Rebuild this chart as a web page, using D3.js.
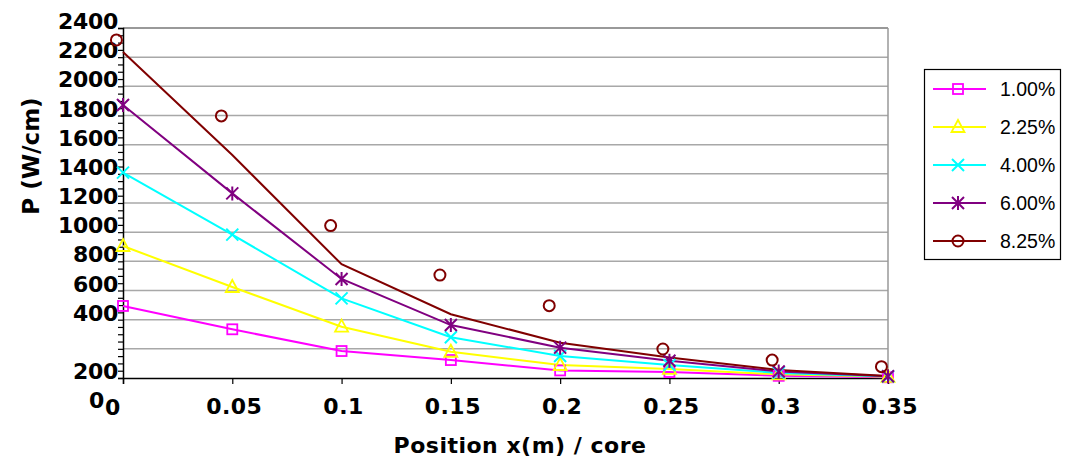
<!DOCTYPE html>
<html>
<head>
<meta charset="utf-8">
<script src="https://cdn.jsdelivr.net/npm/d3@7"></script>
<style>
  body { margin: 0; background: #fff; }
  svg { display: block; }
</style>
</head>
<body>
<div id="panel"></div>
<script>
var w = 1072;
var h = 462;

// positions along the core (m)
var positions = [0, 0.05, 0.1, 0.15, 0.2, 0.25, 0.3, 0.35];
var labels = ['1.00%', '2.25%', '4.00%', '6.00%', '8.25%'];
var p100 = [494, 334, 185, 123, 52, 41, 15, 5];
var p225 = [905, 624, 352, 180, 89, 62, 25, 8];
var p400 = [1408, 983, 546, 279, 151, 89, 35, 10];
var p600 = [1872, 1266, 679, 363, 208, 118, 45, 12];
var p825 = [2235, 1529, 780, 437, 242, 141, 55, 14];
// separate 8.25% circles (not on the line)
var x825pts = [-0.003, 0.045, 0.095, 0.145, 0.195, 0.247, 0.297, 0.347];
var y825pts = [2318, 1797, 1045, 706, 496, 199, 123, 78];

var xTicks = [0, 0.05, 0.1, 0.15, 0.2, 0.25, 0.3, 0.35];
var yTicks = d3.range(0, 2401, 200);

var colors = ['#ff00ff', '#ffff00', '#00ffff', '#800080', '#800000'];
var shapes = ['square', 'triangle', 'x', 'star', 'circle'];
var series = [p100, p225, p400, p600, p825];

var svg = d3.select('#panel').append('svg').attr('width', w).attr('height', h);

var x = d3.scaleLinear().domain([0, 0.35]).range([123, 888]);
var y = d3.scaleLinear().domain([0, 2400]).range([378, 28]);

var boldFont = "'DejaVu Sans', sans-serif";

// grid
svg.append('g').selectAll('line')
  .data(yTicks.filter(function (v) { return v > 0; }))
  .enter().append('line')
  .attr('x1', x(0)).attr('x2', x(0.35))
  .attr('y1', function (d) { return y(d); })
  .attr('y2', function (d) { return y(d); })
  .attr('stroke', function (d) { return d === 2400 ? '#777' : '#a8a8a8'; })
  .attr('stroke-width', 1.5);

svg.append('line')
  .attr('x1', x(0.35)).attr('x2', x(0.35))
  .attr('y1', y(2400)).attr('y2', y(0))
  .attr('stroke', '#999').attr('stroke-width', 1.5);

// y axis with minor ticks
var yAxis = d3.axisLeft(y).tickValues(d3.range(0, 2401, 50)).tickSize(5).tickFormat('');
var gy = svg.append('g').attr('transform', 'translate(' + x(0) + ',0)').call(yAxis);
gy.select('.domain').attr('stroke', '#000').attr('stroke-width', 1.5);
gy.selectAll('.tick line').attr('stroke', '#000').attr('stroke-width', 1.2);

// y labels (as drawn in the original, the two lowest sit lower)
svg.append('g').selectAll('text')
  .data(yTicks)
  .enter().append('text')
  .attr('x', function (d) { return d === 0 ? 104 : 118; })
  .attr('y', function (d) {
    if (d === 0) return y(0) + 30;
    if (d === 200) return y(0) + 1;
    return y(d) + 1;
  })
  .attr('text-anchor', 'end')
  .style('font-family', boldFont)
  .style('font-weight', 'bold')
  .style('font-size', '22px')
  .style('letter-spacing', '-0.3px')
  .text(function (d) { return d; });

// x axis
var xAxis = d3.axisBottom(x).tickValues(xTicks).tickSize(6).tickFormat('');
var gx = svg.append('g').attr('transform', 'translate(0,' + y(0) + ')').call(xAxis);
gx.select('.domain').attr('stroke', '#000').attr('stroke-width', 1.5);
gx.selectAll('.tick line').attr('stroke', '#000').attr('stroke-width', 1.2);

svg.append('g').selectAll('text')
  .data(xTicks)
  .enter().append('text')
  .attr('x', function (d) { return d === 0 ? x(d) - 10 : x(d) + 2; })
  .attr('y', function (d) { return d === 0 ? 415 : 414; })
  .attr('text-anchor', 'middle')
  .style('font-family', boldFont)
  .style('font-weight', 'bold')
  .style('font-size', '22px')
  .style('letter-spacing', '0.5px')
  .text(function (d) { return d; });

// titles
svg.append('text')
  .attr('transform', 'translate(39,156) rotate(-90)')
  .attr('text-anchor', 'middle')
  .style('font-family', boldFont)
  .style('font-weight', 'bold')
  .style('font-size', '23px')
  .text('P (W/cm)');

svg.append('text')
  .attr('x', 520).attr('y', 453)
  .attr('text-anchor', 'middle')
  .style('font-family', boldFont)
  .style('font-weight', 'bold')
  .style('font-size', '22px')
  .style('letter-spacing', '0.5px')
  .text('Position x(m) / core');

// marker drawing
function marker(g, shape, color, cx, cy) {
  var s;
  if (shape === 'square') {
    g.append('rect').attr('x', cx - 5).attr('y', cy - 5).attr('width', 10).attr('height', 10)
      .attr('fill', 'none').attr('stroke', color).attr('stroke-width', 1.8);
  } else if (shape === 'triangle') {
    g.append('path').attr('d', 'M' + cx + ',' + (cy - 7) + 'L' + (cx + 6.5) + ',' + (cy + 5) + 'L' + (cx - 6.5) + ',' + (cy + 5) + 'Z')
      .attr('fill', 'none').attr('stroke', color).attr('stroke-width', 1.8);
  } else if (shape === 'x') {
    s = 6;
    g.append('path').attr('d', 'M' + (cx - s) + ',' + (cy - s) + 'L' + (cx + s) + ',' + (cy + s) + 'M' + (cx - s) + ',' + (cy + s) + 'L' + (cx + s) + ',' + (cy - s))
      .attr('stroke', color).attr('stroke-width', 2);
  } else if (shape === 'star') {
    s = 6;
    g.append('path').attr('d', 'M' + (cx - s) + ',' + (cy - s) + 'L' + (cx + s) + ',' + (cy + s) + 'M' + (cx - s) + ',' + (cy + s) + 'L' + (cx + s) + ',' + (cy - s) + 'M' + cx + ',' + (cy - s - 1) + 'L' + cx + ',' + (cy + s + 1))
      .attr('stroke', color).attr('stroke-width', 2);
  } else {
    g.append('circle').attr('cx', cx).attr('cy', cy).attr('r', 5.5)
      .attr('fill', 'none').attr('stroke', color).attr('stroke-width', 2);
  }
}

var line = d3.line()
  .x(function (d, i) { return x(positions[i]); })
  .y(function (d) { return y(d); });

var plot = svg.append('g');
series.forEach(function (vals, k) {
  plot.append('path')
    .attr('d', line(vals))
    .attr('fill', 'none')
    .attr('stroke', colors[k])
    .attr('stroke-width', 2);
});
series.forEach(function (vals, k) {
  if (k === 4) return;
  var g = plot.append('g');
  vals.forEach(function (v, i) {
    marker(g, shapes[k], colors[k], x(positions[i]), y(v));
  });
});
var gc = plot.append('g');
y825pts.forEach(function (v, i) {
  marker(gc, 'circle', colors[4], x(x825pts[i]), y(v));
});

// legend
var leg = svg.append('g');
leg.append('rect')
  .attr('x', 924.5).attr('y', 69.5).attr('width', 136).attr('height', 190)
  .attr('fill', '#fff').attr('stroke', '#000').attr('stroke-width', 1.2);
labels.forEach(function (lab, k) {
  var ly = 89 + k * 38;
  leg.append('line')
    .attr('x1', 933).attr('x2', 986).attr('y1', ly).attr('y2', ly)
    .attr('stroke', colors[k]).attr('stroke-width', 2);
  marker(leg, shapes[k], colors[k], 958, ly);
  leg.append('text')
    .attr('x', 1000).attr('y', ly + 7)
    .style('font-family', "'Liberation Sans', Arial, sans-serif")
    .style('font-size', '19.5px')
    .text(lab);
});
</script>
</body>
</html>
